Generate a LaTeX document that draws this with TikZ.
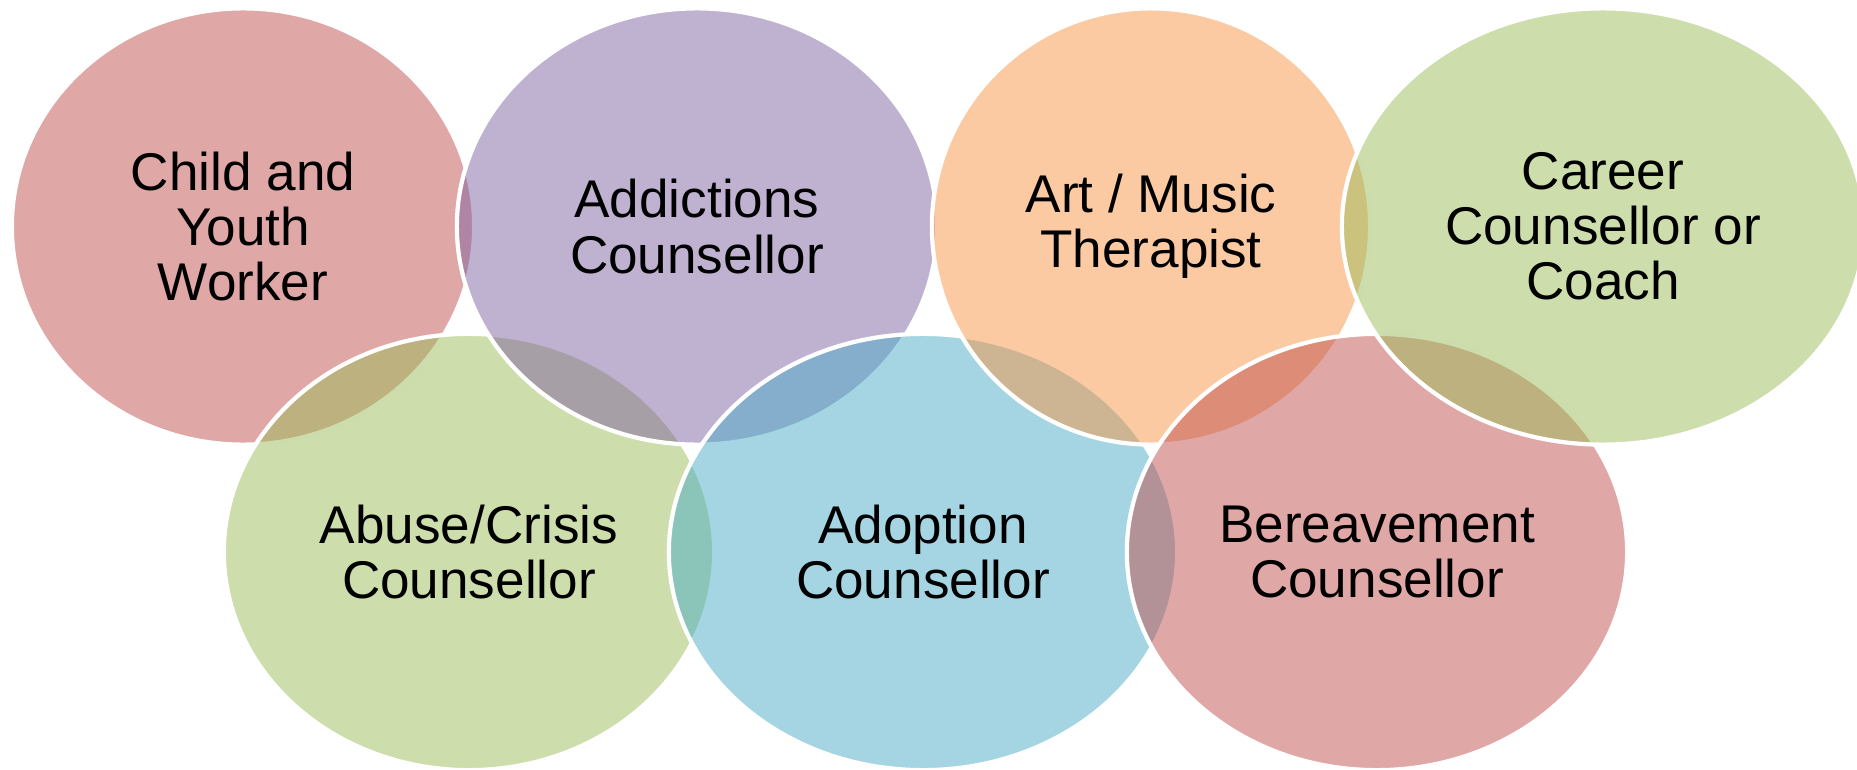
\documentclass[tikz,border=0pt]{standalone}
\usepackage{fontspec}
\setmainfont{Liberation Sans}
\usetikzlibrary{shapes.geometric}
\definecolor{venred}{HTML}{C0504D}
\definecolor{venpurple}{HTML}{8064A2}
\definecolor{venorange}{HTML}{F79646}
\definecolor{vengreen}{HTML}{9BBB59}
\definecolor{venblue}{HTML}{4BACC6}

\begin{document}
\begin{tikzpicture}[x=0.01cm,y=-0.01cm,
    ring/.style={ellipse,draw=white,line width=1.2pt,fill opacity=0.5,text opacity=1,
      align=center,inner sep=0pt,minimum height=4.36cm,
      font=\fontsize{15.1}{15.7}\selectfont}]
  \useasboundingbox (0,0) rectangle (1857,770);
  % drawn column by column, so the later rims lie on top
  \node[ring,fill=venred,minimum width=4.62cm] (child) at (243,226.5) {Child and\\Youth\\Worker};
  \node[ring,fill=vengreen,minimum width=4.90cm] (abuse) at (469,552) {Abuse/Crisis\\Counsellor};
  \node[ring,fill=venpurple,minimum width=4.80cm] (addict) at (697,226.5) {Addictions\\Counsellor};
  \node[ring,fill=venblue,minimum width=5.08cm] (adopt) at (923,552) {Adoption\\Counsellor};
  \node[ring,fill=venorange,minimum width=4.38cm] (art) at (1151,226.5) {Art / Music\\Therapist};
  \node[ring,fill=venred,minimum width=5.00cm] (bereave) at (1377,552) {Bereavement\\Counsellor};
  \node[ring,fill=vengreen,minimum width=5.22cm] (career) at (1603,226.5) {Career\\Counsellor or\\Coach};
\end{tikzpicture}
\end{document}
